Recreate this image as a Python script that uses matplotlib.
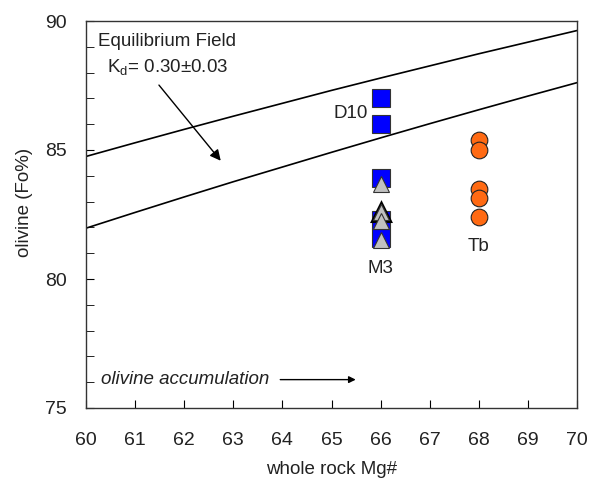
import matplotlib.pyplot as plt
import numpy as np

plt.rcParams['font.family'] = ['Liberation Sans', 'DejaVu Sans']
plt.rcParams['mathtext.fontset'] = 'custom'
plt.rcParams['mathtext.rm'] = 'Liberation Sans'

# Lineas de equilibrio (Kd = 0.27 y 0.33)
mg_linea = [60, 61, 62, 63, 64, 65, 66, 67, 68, 69, 70]
fo_sup = [84.75, 85.28, 85.80, 86.31, 86.81, 87.31, 87.79, 88.26, 88.73, 89.18, 89.63]
fo_inf = [81.97, 82.58, 83.18, 83.77, 84.34, 84.91, 85.47, 86.02, 86.56, 87.09, 87.61]

# Datos
d10_x = [66, 66, 66, 66, 66]
d10_y = [87.0, 86.0, 83.9, 82.3, 81.6]
m3_x = [66, 66, 66, 66]
m3_y = [83.7, 82.6, 82.25, 81.5]
tb_x = [68, 68, 68, 68, 68]
tb_y = [85.4, 85.0, 83.5, 83.15, 82.4]

fig = plt.figure(figsize=(5.9, 4.82), dpi=100)
ax = fig.add_axes([86 / 590, 1 - 408 / 482, (577 - 86) / 590, (408 - 21) / 482])

ax.plot(mg_linea, fo_sup, color='black', lw=1.2)
ax.plot(mg_linea, fo_inf, color='black', lw=1.2)

ax.plot(d10_x, d10_y, 's', ms=12.5, mfc='#0000ff', mec='#333333', mew=0.8, ls='none')
ax.plot(m3_x[1:2], m3_y[1:2], '^', ms=12.5, mfc='#c0c0c0', mec='black', mew=2.2, ls='none')
ax.plot(m3_x, m3_y, '^', ms=11.5, mfc='#c0c0c0', mec='#333333', mew=0.8, ls='none')
ax.plot(tb_x, tb_y, 'o', ms=12, mfc='#ff6a13', mec='#222222', mew=0.8, ls='none')

ax.text(65.75, 86.4, 'D10', fontsize=13.5, ha='right', va='center', color='#222222')
ax.text(66, 80.75, 'M3', fontsize=13.5, ha='center', va='top', color='#222222')
ax.text(68, 81.6, 'Tb', fontsize=13.5, ha='center', va='top', color='#222222')

ax.text(60.25, 89.2, 'Equilibrium Field', fontsize=13.5, ha='left', va='center', color='#222222')
ax.text(60.42, 88.2, r'K$_\mathregular{d}$= 0.30$\pm$0.03', fontsize=13.5, ha='left', va='center', color='#222222')
ax.annotate('', xy=(62.78, 84.5), xytext=(61.45, 87.6),
            arrowprops=dict(arrowstyle='-|>', color='black', lw=1.0, mutation_scale=16))

ax.text(60.3, 76.1, 'olivine accumulation', fontsize=13.5, style='italic', ha='left', va='center', color='#222222')
ax.annotate('', xy=(65.55, 76.1), xytext=(63.9, 76.1),
            arrowprops=dict(arrowstyle='-|>', color='black', lw=1.0, mutation_scale=10))

ax.set_xlim(60, 70)
ax.set_ylim(75, 90)
ax.set_xticks(np.arange(60, 71, 1))
ax.set_yticks([75, 80, 85, 90])
ax.set_yticks(np.arange(75, 91, 1), minor=True)
ax.tick_params(axis='both', which='both', direction='in', top=False, right=False,
               labelsize=14, labelcolor='#222222')
ax.tick_params(axis='both', which='major', length=6, pad=14)
ax.tick_params(axis='x', which='major', pad=17)
ax.tick_params(axis='y', which='minor', length=6)
ax.tick_params(axis='x', which='minor', bottom=False)

ax.set_xlabel('whole rock Mg#', fontsize=13.5, color='#222222', labelpad=9)
ax.set_ylabel('olivine (Fo%)', fontsize=13.5, color='#222222')
ax.yaxis.set_label_coords(-0.108, 0.53)
for s in ax.spines.values():
    s.set_linewidth(1.0)
    s.set_color('#333333')

fig.savefig('out.png', dpi=100)
